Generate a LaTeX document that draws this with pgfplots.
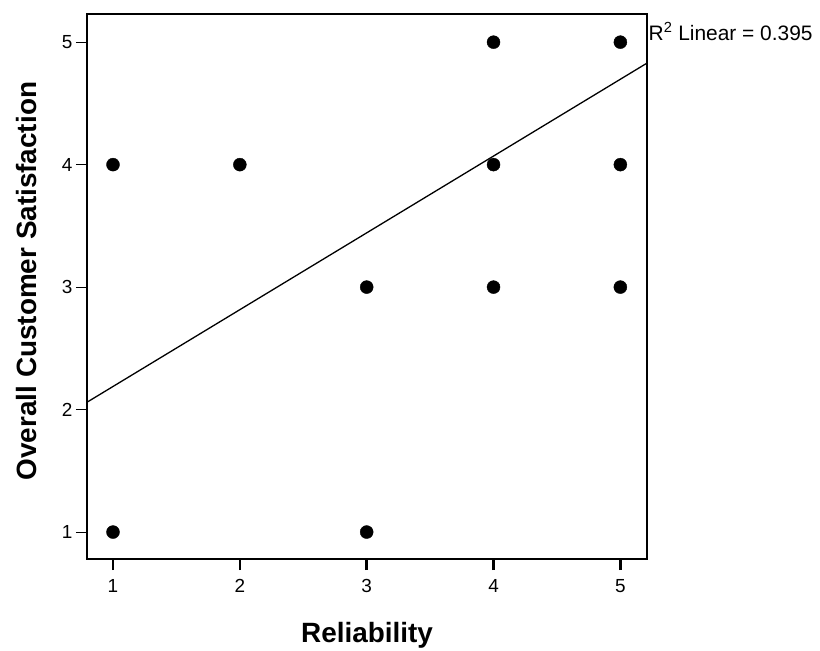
\documentclass[border=0pt]{standalone}
\usepackage{fontspec}
\setmainfont{Liberation Sans}
\usepackage{pgfplots}
\pgfplotsset{compat=1.18}
\newcommand{\tl}{\fontsize{19}{22}\selectfont}
\begin{document}
\begin{tikzpicture}
\begin{axis}[
  at={(0,0)}, anchor=south west,
  scale only axis,
  width=560bp, height=545bp,
  xmin=0.795, xmax=5.21,
  ymin=0.78, ymax=5.23,
  xtick={1,2,3,4,5}, ytick={1,2,3,4,5},
  xticklabels={{\tl 1},{\tl 2},{\tl 3},{\tl 4},{\tl 5}},
  yticklabels={{\tl 1},{\tl 2},{\tl 3},{\tl 4},{\tl 5}},
  tick align=outside,
  major tick length=11bp,
  xtick pos=bottom, ytick pos=left,
  axis line style={line width=1.6bp},
  x tick style={line width=2.5bp, black},
  y tick style={line width=1bp, black},
  xticklabel style={yshift=-6bp},
  xlabel={Reliability},
  ylabel={Overall Customer Satisfaction},
  every axis x label/.style={at={(axis description cs:0.5,-0.154)}, anchor=base, font=\fontsize{28}{32}\selectfont\bfseries},
  every axis y label/.style={at={(axis description cs:-0.091,0.51)}, anchor=base, rotate=90, font=\fontsize{28}{32}\selectfont\bfseries},
  clip=false,
]
\addplot[only marks, mark=*, mark size=6.5bp, black] coordinates {
  (1,1) (1,4) (2,4) (3,3) (3,1) (4,5) (4,4) (4,3) (5,5) (5,4) (5,3)
};
\addplot[black, line width=1.3bp] coordinates {(0.795,2.060) (5.21,4.829)};
\node[anchor=base west, font=\fontsize{21}{24}\selectfont, inner sep=0pt, xshift=1.5bp] at (rel axis cs:1,0.952) {R\textsuperscript{2} Linear = 0.395};
\end{axis}
\pgfresetboundingbox
\path (-87bp,-92bp) rectangle (733bp,559bp);
\end{tikzpicture}
\end{document}
